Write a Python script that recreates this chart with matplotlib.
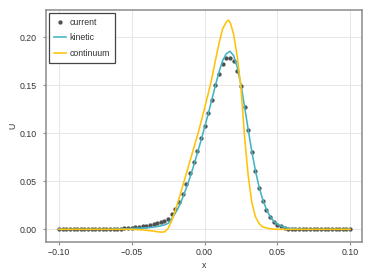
import numpy as np
import matplotlib
matplotlib.use("Agg")
import matplotlib.pyplot as plt

plt.rcParams['font.family'] = ['Liberation Sans', 'DejaVu Sans']

# sampling grid of the "current" and "kinetic" series (81 cells, step 0.0025)
x = np.linspace(-0.1, 0.1, 81)

current = [0.0] * 15 + [
    0.0002, 0.0004, 0.0006, 0.0009, 0.0012, 0.0016, 0.002, 0.0025, 0.003, 0.0037,
    0.0045, 0.0054, 0.0063, 0.0075, 0.0085, 0.0105, 0.0156, 0.021, 0.028, 0.037,
    0.047, 0.059, 0.070, 0.082, 0.095, 0.108, 0.121, 0.135, 0.150, 0.162,
    0.172, 0.178, 0.179, 0.175, 0.165, 0.149, 0.127, 0.104, 0.081, 0.061,
    0.043, 0.030, 0.020, 0.013, 0.008, 0.005, 0.003, 0.0015, 0.0008, 0.0004,
    0.0002] + [0.0] * 15

kinetic = [0.0] * 15 + [
    0.0002, 0.0003, 0.0004, 0.0005, 0.0006, 0.0008, 0.001, 0.0012, 0.0014, 0.0016,
    0.0019, 0.0023, 0.0029, 0.0037, 0.0046, 0.0062, 0.011, 0.017, 0.024, 0.033,
    0.043, 0.054, 0.066, 0.079, 0.092, 0.106, 0.120, 0.135, 0.150, 0.164,
    0.176, 0.183, 0.1855, 0.181, 0.169, 0.151, 0.128, 0.104, 0.081, 0.061,
    0.044, 0.031, 0.021, 0.0135, 0.0085, 0.0055, 0.0035, 0.002, 0.0012, 0.0007,
    0.0004, 0.0002] + [0.0] * 14

cont_x = [-0.1, -0.05, -0.045, -0.04, -0.035, -0.0325, -0.03, -0.0275, -0.025,
          -0.0225, -0.02, -0.0175, -0.015, -0.0125, -0.01, -0.0075, -0.005,
          -0.0025, 0.0, 0.0025, 0.005, 0.0075, 0.01, 0.0125, 0.015, 0.0165,
          0.018, 0.02, 0.0225, 0.025, 0.0275, 0.03, 0.0325, 0.035, 0.0375,
          0.04, 0.045, 0.05, 0.1]
continuum = [0.0, 0.0, -0.0004, -0.001, -0.0019, -0.0025, -0.0029, -0.0027, 0.001,
             0.009, 0.020, 0.032, 0.045, 0.058, 0.071, 0.084, 0.097,
             0.111, 0.126, 0.141, 0.157, 0.176, 0.194, 0.209, 0.216, 0.218,
             0.214, 0.203, 0.180, 0.148, 0.097, 0.056, 0.028, 0.013, 0.006,
             0.0025, 0.0005, 0.0, 0.0]

xticks = [-0.10, -0.05, 0.00, 0.05, 0.10]
yticks = [0.00, 0.05, 0.10, 0.15, 0.20]

fs = 6.3
spine_col = '#8c8c8c'

fig = plt.figure(figsize=(3.73, 2.80), dpi=100)
ax = fig.add_axes([46 / 373, 1 - 242 / 280, 316 / 373, 232 / 280])

ax.plot(x, current, 'o', color='#505050', markersize=3.1, markeredgewidth=0,
        label='current', zorder=3)
ax.plot(x, kinetic, color='#42b4c4', linewidth=1.15, label='kinetic', zorder=4)
ax.plot(cont_x, continuum, color='#ffc20a', linewidth=1.15, label='continuum', zorder=5)

ax.set_xlim(-0.1089, 0.1082)
ax.set_ylim(-0.0132, 0.2285)
ax.set_xticks(xticks)
ax.set_yticks(yticks)
ax.set_xticklabels(['\u22120.10', '\u22120.05', '0.00', '0.05', '0.10'])
ax.set_yticklabels(['0.00', '0.05', '0.10', '0.15', '0.20'])

ax.grid(True, color='#e6e6e6', linewidth=0.7)
ax.set_axisbelow(True)
for s in ax.spines.values():
    s.set_color(spine_col)
    s.set_linewidth(1.1)

ax.tick_params(axis='both', direction='out', length=2, width=0.8, color=spine_col,
               labelsize=fs, labelcolor='#333333')
ax.tick_params(axis='x', pad=2.3)
ax.tick_params(axis='y', pad=5)

ax.set_xlabel('x', fontsize=fs, color='#333333', labelpad=3)
ax.set_ylabel('U', fontsize=fs, color='#333333', labelpad=1.5)

leg = ax.legend(loc='upper left', bbox_to_anchor=(0, 1), borderaxespad=0.35,
                fontsize=fs, fancybox=False, framealpha=1, edgecolor='#444444',
                handlelength=1.43, handletextpad=0.38, borderpad=0.55,
                labelspacing=0.75, markerscale=1.0)
leg.get_frame().set_linewidth(0.9)
for t in leg.get_texts():
    t.set_color('#333333')

fig.savefig('out.png', dpi=100)
